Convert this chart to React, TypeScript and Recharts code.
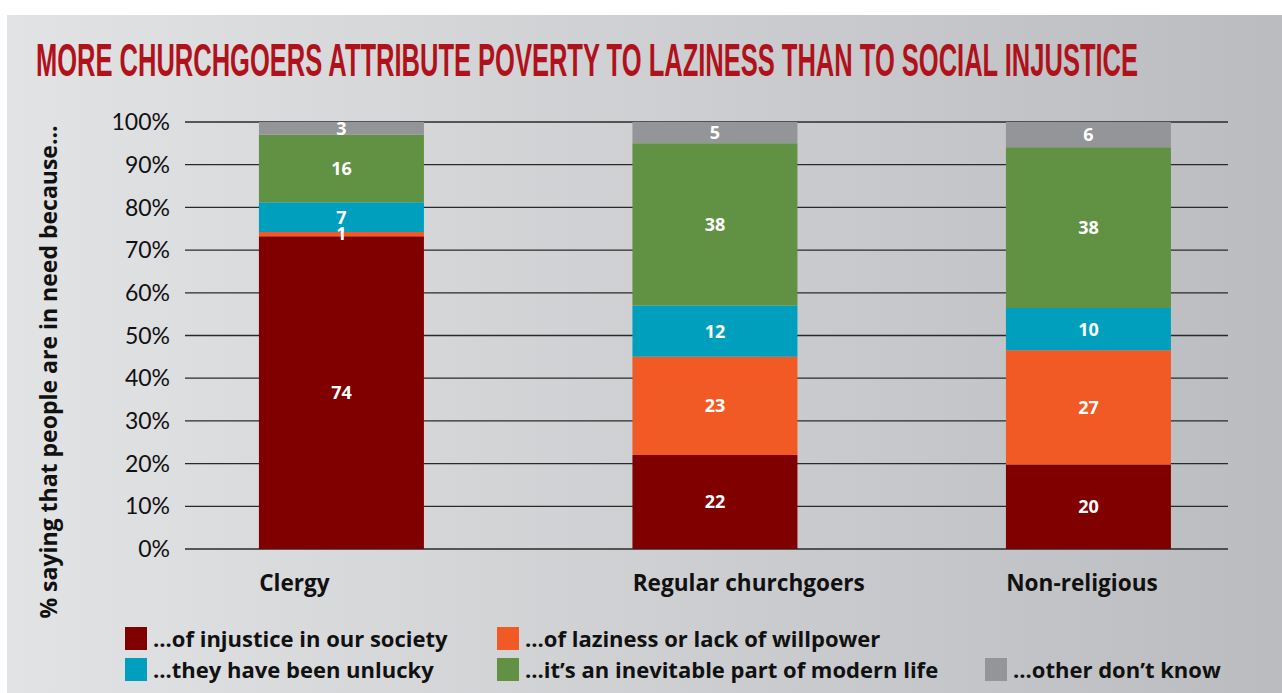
import React from 'react';
import { BarChart, Bar, XAxis, YAxis, CartesianGrid, LabelList } from 'recharts';

const categories = ['Clergy', 'Regular churchgoers', 'Non-religious'];
const injustice = [74, 22, 20];
const laziness = [1, 23, 27];
const unlucky = [7, 12, 10];
const inevitable = [16, 38, 38];
const other = [3, 5, 6];
const yTicks = [0, 0.1, 0.2, 0.3, 0.4, 0.5, 0.6, 0.7, 0.8, 0.9, 1];

const seriesKeys = ['injustice', 'laziness', 'unlucky', 'inevitable', 'other'];
const seriesNames = [
  '...of injustice in our society',
  '...of laziness or lack of willpower',
  '...they have been unlucky',
  "...it\u2019s an inevitable part of modern life",
  '...other don\u2019t know',
];
const seriesColors = ['#800000', '#f15a24', '#009fbd', '#619142', '#939598'];
const legendRows = [[0, 1], [2, 3, 4]];

const title = 'MORE CHURCHGOERS ATTRIBUTE POVERTY TO LAZINESS THAN TO SOCIAL INJUSTICE';
const yLabel = '% saying that people are in need because...';

const seriesValues = [injustice, laziness, unlucky, inevitable, other];
const data = categories.map((name, i) => {
  const row: Record<string, any> = { pos: i, name };
  seriesKeys.forEach((k, s) => { row[k] = seriesValues[s][i]; });
  return row;
});

const FONT = '"Open Sans", Lato, sans-serif';
const TICKFONT = 'Lato, "Open Sans", sans-serif';
const BAR = 165;

const XTick = (props: any) => {
  const { x, y, payload } = props;
  return (
    <text x={x - BAR / 2} y={y} dy="0.71em" textAnchor="start" fontFamily={FONT} fontWeight={700} fontSize={22.6} fill="#111">
      {categories[payload.value]}
    </text>
  );
};

export default function App() {
  return (
    <div style={{ position: 'absolute', left: 0, top: 0, width: 1282, height: 693, background: '#fff', overflow: 'hidden' }}>
      <div style={{ position: 'absolute', left: 7, top: 15, width: 1275, height: 678, background: 'linear-gradient(to right, #e2e3e5, #bbbcbf)' }} />
      <div style={{ position: 'absolute', left: 0, top: 0 }}>
        <BarChart width={1282} height={693} data={data} stackOffset="expand" margin={{ top: 122, right: 54, bottom: 104, left: 125 }}>
          <CartesianGrid vertical={false} stroke="#2a2a2a" strokeWidth={1.3} />
          <XAxis
            dataKey="pos"
            type="number"
            domain={[-0.4195, 2.373]}
            ticks={[0, 1, 2]}
            axisLine={false}
            tickLine={false}
            height={40}
            tickMargin={20}
            tick={<XTick />}
            allowDataOverflow
          />
          <YAxis
            width={60}
            ticks={yTicks}
            domain={[0, 1]}
            axisLine={false}
            tickLine={false}
            tickSize={6}
            tickMargin={9}
            tickFormatter={(v: number) => `${Math.round(v * 100)}%`}
            tick={{ fontFamily: TICKFONT, fontSize: 23, fill: '#111' }}
          />
          {seriesKeys.map((k, s) => (
            <Bar key={k} dataKey={k} stackId="a" fill={seriesColors[s]} barSize={BAR} isAnimationActive={false}>
              <LabelList dataKey={k} position="center" fill="#fff" fontFamily={FONT} fontWeight={700} fontSize={18} />
            </Bar>
          ))}
        </BarChart>
      </div>
      <svg style={{ position: 'absolute', left: 0, top: 0 }} width={1282} height={693}>
        <text x={36} y={76} fontFamily='"Liberation Sans Narrow", "Liberation Sans", sans-serif' fontWeight={700} fontSize={46} fill="#b0121b" textLength={1102} lengthAdjust="spacingAndGlyphs">
          {title}
        </text>
        <text transform="translate(57, 372) rotate(-90)" textAnchor="middle" fontFamily={FONT} fontWeight={700} fontSize={23} fill="#111">
          {yLabel}
        </text>
      </svg>
      <div style={{ position: 'absolute', left: 125, top: 627, fontFamily: FONT, fontWeight: 700, fontSize: 22, color: '#111' }}>
        {legendRows.map((row, r) => (
          <div key={r} style={{ display: 'flex', height: 31 }}>
            {row.map((s, c) => (
              <div key={s} style={{ display: 'flex', alignItems: 'flex-start', width: c === 0 ? 372 : 488 }}>
                <div style={{ width: 22, height: 23, background: seriesColors[s], marginRight: 6, flexShrink: 0 }} />
                <span style={{ lineHeight: '23px', whiteSpace: 'nowrap' }}>{seriesNames[s]}</span>
              </div>
            ))}
          </div>
        ))}
      </div>
    </div>
  );
}
